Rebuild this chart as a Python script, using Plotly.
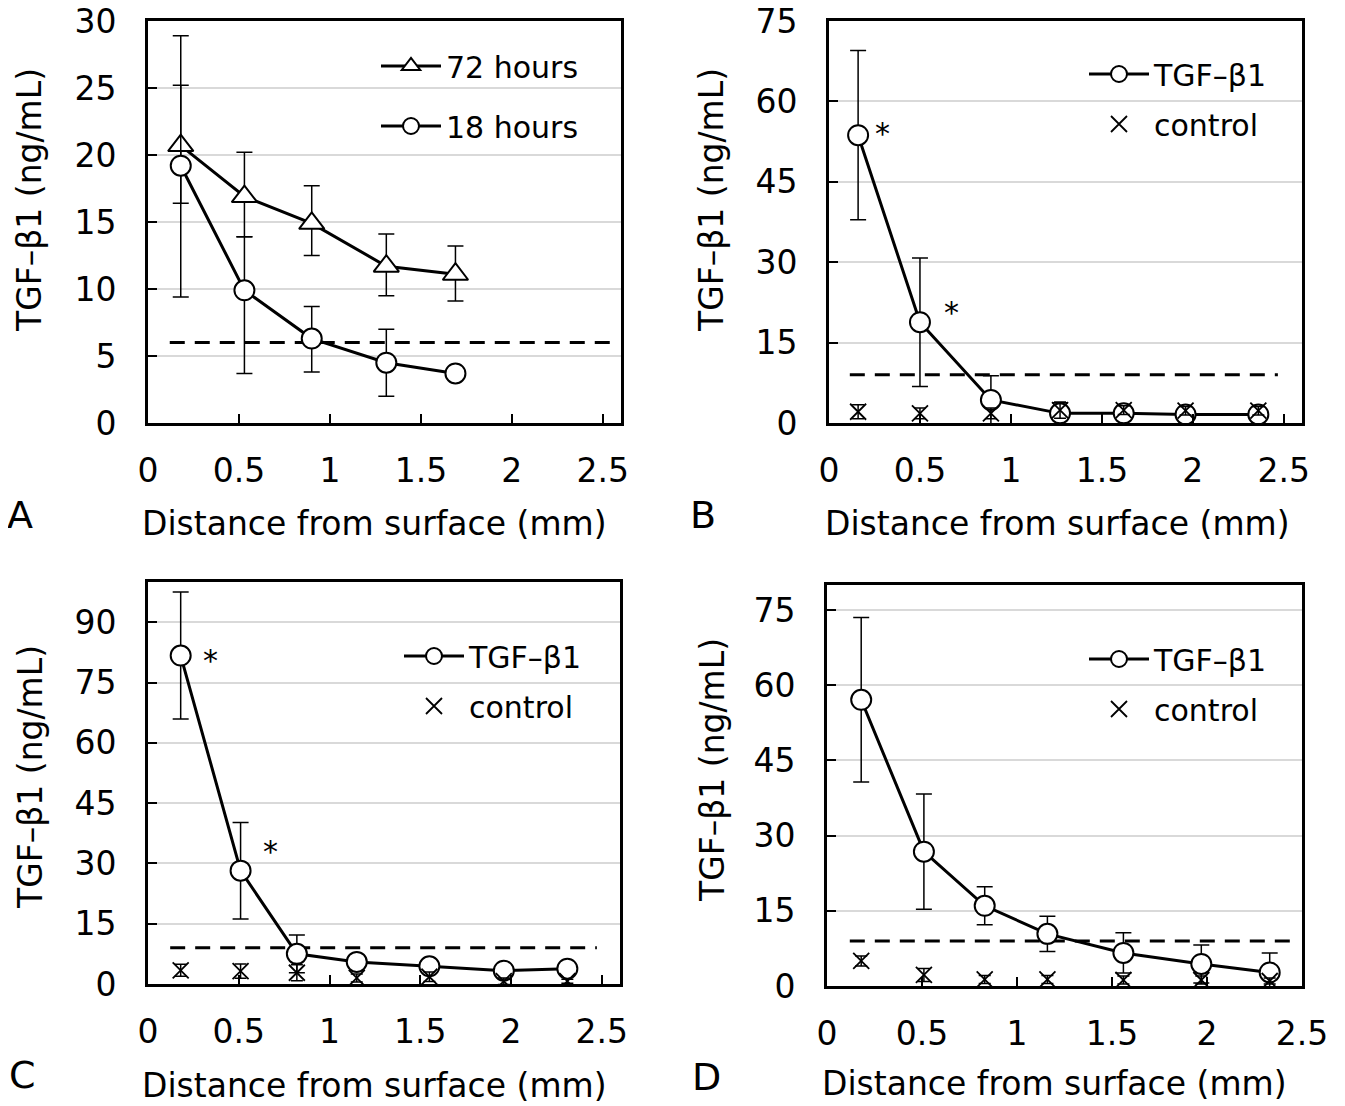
import plotly.graph_objects as go

# Panel A: release after 72 h and 18 h
a_x = [0.18, 0.53, 0.90, 1.31, 1.69]
a_72 = [20.7, 16.9, 14.9, 11.7, 11.1]
a_72_plus = [8.2, 3.3, 2.8, 2.4, 2.1]
a_72_minus = [4.3, 3.0, 2.4, 2.2, 2.0]
a_18 = [19.2, 9.9, 6.3, 4.5, 3.7]
a_18_plus = [6.0, 4.0, 2.4, 2.5, 0.3]
a_18_minus = [9.8, 6.2, 2.5, 2.5, 0.3]
a_limit = 6

# Panel B
b_x = [0.16, 0.50, 0.89, 1.27, 1.62, 1.96, 2.36]
b_tgf = [53.7, 18.8, 4.3, 1.8, 1.8, 1.6, 1.6]
b_tgf_err = [15.8, 12.0, 4.5, 2.0, 0.7, 0.6, 0.6]
b_ctrl = [2.1, 1.8, 1.8, 2.4, 2.4, 2.3, 2.3]
b_ctrl_err = [1.3, 1.0, 1.0, 1.5, 0.8, 0.8, 0.8]
b_limit = 9

# Panel C
c_x = [0.18, 0.51, 0.82, 1.15, 1.55, 1.96, 2.31]
c_tgf = [81.7, 28.2, 7.5, 5.5, 4.4, 3.3, 3.8]
c_tgf_err = [15.8, 12.0, 4.7, 1.5, 1.2, 1.0, 0.8]
c_ctrl = [3.4, 3.2, 2.8, 1.5, 1.8, 0.7, 0.7]
c_ctrl_err = [1.5, 1.8, 2.0, 1.0, 1.2, 0.8, 0.5]
c_limit = 9

# Panel D
d_x = [0.18, 0.51, 0.83, 1.16, 1.56, 1.97, 2.33]
d_tgf = [57.1, 26.8, 16.0, 10.4, 6.6, 4.4, 2.7]
d_tgf_err = [16.4, 11.5, 3.8, 3.5, 4.0, 3.8, 3.9]
d_ctrl = [5.0, 2.2, 1.3, 1.3, 1.2, 1.2, 1.0]
d_ctrl_err = [1.0, 1.3, 0.8, 0.8, 0.8, 0.8, 0.6]
d_limit = 9

# the page body has an 8px margin, so the figure is shrunk and shifted by it
OFF = 8
W, H = 1345 - OFF, 1106 - OFF
FONT = "DejaVu Sans"


def fx(p):
    return (p - OFF) / W


def fy(p):
    return 1 - (p - OFF) / H


fig = go.Figure()


def add_series(x, y, plus, minus, name, symbol, size, xa, ya, leg):
    fig.add_trace(go.Scatter(
        x=x, y=y, mode="lines+markers", name=name,
        line=dict(color="black", width=3),
        marker=dict(symbol=symbol, size=size, color="white",
                    line=dict(color="black", width=2)),
        error_y=dict(type="data", symmetric=False, array=plus, arrayminus=minus,
                     color="black", thickness=1.5, width=8),
        xaxis=xa, yaxis=ya, legend=leg, legendgroup=name + xa))


def add_control(x, y, err, xa, ya, leg):
    fig.add_trace(go.Scatter(
        x=x, y=y, mode="markers", name="control",
        marker=dict(symbol="x-thin", size=16, color="black",
                    line=dict(color="black", width=1.8)),
        error_y=dict(type="data", array=err, color="black", thickness=1.5, width=6),
        xaxis=xa, yaxis=ya, legend=leg, legendgroup="control" + xa))


add_series(a_x, a_72, a_72_plus, a_72_minus, "72 hours", "triangle-up", 22, "x", "y", "legend")
add_series(a_x, a_18, a_18_plus, a_18_minus, "18 hours", "circle", 20, "x", "y", "legend")

add_series(b_x, b_tgf, b_tgf_err, b_tgf_err, "TGF–β1", "circle", 20, "x2", "y2", "legend2")
add_control(b_x, b_ctrl, b_ctrl_err, "x2", "y2", "legend2")

add_series(c_x, c_tgf, c_tgf_err, c_tgf_err, "TGF–β1", "circle", 20, "x3", "y3", "legend3")
add_control(c_x, c_ctrl, c_ctrl_err, "x3", "y3", "legend3")

add_series(d_x, d_tgf, d_tgf_err, d_tgf_err, "TGF–β1", "circle", 20, "x4", "y4", "legend4")
add_control(d_x, d_ctrl, d_ctrl_err, "x4", "y4", "legend4")


def axis(domain, rng, dtick, anchor, grid, standoff):
    return dict(domain=domain, range=rng, dtick=dtick, tick0=0, anchor=anchor,
                showline=True, linecolor="black", linewidth=3, mirror=True,
                ticks="inside", ticklen=9, tickwidth=2, tickcolor="black",
                showgrid=grid, gridcolor="#d9d9d9", gridwidth=1.5, zeroline=False,
                tickfont=dict(family=FONT, size=33, color="black"),
                ticklabelstandoff=standoff, ticklabeloverflow="allow",
                automargin=False, fixedrange=True)


# plot boxes in pixels: (left, right, top, bottom)
boxes = [(148, 621, 21, 423), (829, 1302, 21, 423),
         (148, 620, 582, 984), (827, 1302, 585, 986)]
xranges = [[0, 2.6], [0, 2.6], [0, 2.6], [0, 2.5]]
yranges = [[0, 30], [0, 75], [0, 100], [0, 80]]
ydticks = [5, 15, 15, 15]

layout = {}
for i, (l, r, t, b) in enumerate(boxes):
    s = "" if i == 0 else str(i + 1)
    layout["xaxis" + s] = axis([fx(l), fx(r)], xranges[i], 0.5, "y" + s, False, 16)
    layout["yaxis" + s] = axis([fy(b), fy(t)], yranges[i], ydticks[i], "x" + s, True, 22)

# legends
leg_pos = [(376, 40), (1084, 48), (399, 630), (1084, 633)]
leg_gap = [18, 8, 8, 8]
for i, (lx, ly) in enumerate(leg_pos):
    s = "" if i == 0 else str(i + 1)
    layout["legend" + s] = dict(x=fx(lx), y=fy(ly), xanchor="left", yanchor="top",
                                bgcolor="rgba(0,0,0,0)", tracegroupgap=leg_gap[i], itemwidth=60,
                                font=dict(family=FONT, size=30, color="black"))

# detection limit dashed lines
limits = [a_limit, b_limit, c_limit, d_limit]
spans = [(0.046, 0.994), (0.044, 0.949), (0.047, 0.951), (0.048, 0.98)]
shapes = []
for i, lim in enumerate(limits):
    s = "" if i == 0 else str(i + 1)
    shapes.append(dict(type="line", xref="x" + s + " domain", yref="y" + s,
                       x0=spans[i][0], x1=spans[i][1], y0=lim, y1=lim,
                       line=dict(color="black", width=3, dash="15px,10px"), layer="below"))

ann = []
# axis titles and panel letters
for cx, cy in [(374, 523), (1057, 523), (374, 1085), (1054, 1083)]:
    ann.append(dict(text="Distance from surface (mm)", x=fx(cx), y=fy(cy), xref="paper", yref="paper",
                    xanchor="center", yanchor="middle",
                    showarrow=False, font=dict(family=FONT, size=33, color="black")))
for cx, cy in [(30, 200), (712, 200), (30, 777), (712, 770)]:
    ann.append(dict(text="TGF–β1 (ng/mL)", x=fx(cx), y=fy(cy), xref="paper", yref="paper",
                    xanchor="center", yanchor="middle",
                    textangle=-90, showarrow=False, font=dict(family=FONT, size=33, color="black")))
for letter, cx, cy in [("A", 20, 515), ("B", 703, 515), ("C", 22, 1075), ("D", 706, 1077)]:
    ann.append(dict(text=letter, x=fx(cx), y=fy(cy), xref="paper", yref="paper",
                    xanchor="center", yanchor="middle",
                    showarrow=False, font=dict(family=FONT, size=38, color="black")))

# significance stars
for xa, ya, x, y, dx, dy in [("x2", "y2", b_x[0], b_tgf[0], 24, 2),
                             ("x2", "y2", b_x[1], b_tgf[1], 32, 10),
                             ("x3", "y3", c_x[0], c_tgf[0], 30, -5),
                             ("x3", "y3", c_x[1], c_tgf[1], 30, 19)]:
    ann.append(dict(text="*", x=x, y=y, xref=xa, yref=ya, xshift=dx, yshift=dy,
                    showarrow=False, font=dict(family=FONT, size=30, color="black")))

fig.update_layout(width=W, height=H, margin=dict(l=0, r=0, t=0, b=0),
                  paper_bgcolor="white", plot_bgcolor="white",
                  font=dict(family=FONT, size=30, color="black"),
                  shapes=shapes, annotations=ann, **layout)

fig.write_html("out.html")
